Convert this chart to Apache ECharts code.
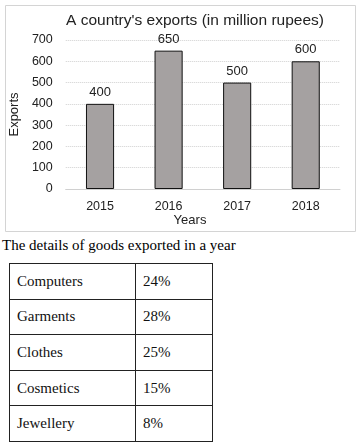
<!DOCTYPE html>
<html>
<head>
<meta charset="utf-8">
<script src="https://cdn.jsdelivr.net/npm/echarts@6/dist/echarts.min.js"></script>
<style>
  html, body { margin: 0; padding: 0; background: #fff; }
  #chart { position: absolute; left: 0; top: 0; width: 358px; height: 232px; }
  #caption { position: absolute; left: 2px; top: 237px; font-family: "Liberation Serif", "Times New Roman", serif; font-size: 15px; color: #000; white-space: nowrap; }
  #tbl { position: absolute; left: 9px; top: 263px; border-collapse: collapse; font-family: "Liberation Serif", "Times New Roman", serif; font-size: 15px; color: #111; }
  #tbl td { border: 1.5px solid #222; height: 35.6px; padding: 0 0 0 7px; box-sizing: border-box; vertical-align: middle; }
  #tbl td.c1 { width: 126px; }
  #tbl td.c2 { width: 77px; }
</style>
</head>
<body>
<div id="chart"></div>
<div id="caption">The details of goods exported in a year</div>
<table id="tbl"></table>
<script>
const years = ['2015', '2016', '2017', '2018'];
const exportsValues = [400, 650, 500, 600];
const yTicks = [0, 100, 200, 300, 400, 500, 600, 700];
const goods = ['Computers', 'Garments', 'Clothes', 'Cosmetics', 'Jewellery'];
const shares = ['24%', '28%', '25%', '15%', '8%'];

const font = '"Liberation Sans", Arial, sans-serif';
const chart = echarts.init(document.getElementById('chart'), null, { renderer: 'canvas' });
chart.setOption({
  animation: false,
  backgroundColor: '#fff',
  title: {
    text: "A country's exports (in million rupees)",
    left: 190, top: 8, textAlign: 'center',
    textStyle: { fontFamily: font, fontSize: 15.5, fontWeight: 'normal', color: '#222' }
  },
  graphic: [
    { type: 'rect', left: 3, top: 3, shape: { width: 350, height: 226 }, style: { fill: 'none', stroke: '#d4d4d4', lineWidth: 1 }, silent: true },
    { type: 'text', x: 190, y: 214, style: { text: 'Years', align: 'center', fontFamily: font, fontSize: 13, fill: '#222' } }
  ],
  grid: { left: 62, right: 18, top: 40, bottom: 43 },
  xAxis: {
    type: 'category',
    data: years,
    axisTick: { show: false },
    axisLine: { show: true, lineStyle: { color: '#d0d0d0' } },
    axisLabel: { margin: 11, fontFamily: font, fontSize: 12.5, color: '#222' }
  },
  yAxis: {
    type: 'value',
    min: yTicks[0], max: yTicks[yTicks.length - 1], interval: 100,
    name: 'Exports', nameLocation: 'middle', nameGap: 40, nameRotate: 90,
    nameTextStyle: { fontFamily: font, fontSize: 13, color: '#222' },
    axisLine: { show: false }, axisTick: { show: false },
    axisLabel: { margin: 13, fontFamily: font, fontSize: 12.5, color: '#222' },
    splitLine: { lineStyle: { color: '#d0d0d0', type: 'dotted' } }
  },
  series: [{
    type: 'bar',
    data: exportsValues,
    barWidth: '41%',
    itemStyle: { color: '#a5a1a1', borderColor: '#111', borderWidth: 1 },
    label: { show: true, position: 'top', distance: 5, fontFamily: font, fontSize: 13, color: '#222' }
  }]
});

const tbl = document.getElementById('tbl');
goods.forEach((g, i) => {
  const tr = document.createElement('tr');
  const a = document.createElement('td'); a.className = 'c1'; a.textContent = g;
  const b = document.createElement('td'); b.className = 'c2'; b.textContent = shares[i];
  tr.appendChild(a); tr.appendChild(b); tbl.appendChild(tr);
});
</script>
</body>
</html>
